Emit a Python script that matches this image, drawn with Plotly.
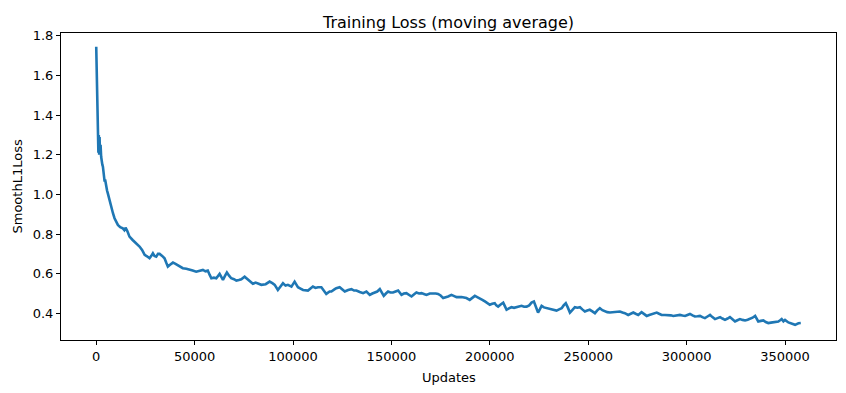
import plotly.graph_objects as go

updates = [0, 200, 400, 700, 900, 1100, 1300, 1500, 1700, 1900, 2200, 2500, 2800, 3100, 3400, 3800, 4200, 4600, 5000, 5500,
           5900, 6700, 7600, 8500, 9300, 10200, 11000, 12200, 13500, 14300, 14900, 15800, 16900, 18500, 20300, 22000, 23300, 24600, 25800, 27100,
           28000, 28800, 29600, 30500, 31400, 32200, 33500, 34700, 35600, 36400, 37500, 39000, 40300, 41500, 42800, 44000, 45800, 47400, 49000, 50800,
           52500, 54200, 55500, 56700, 57600, 58500, 59800, 61000, 62700, 63500, 64400, 65500, 66400, 67500, 68600, 70000, 71200, 72500, 73700, 75400,
           76700, 78000, 79600, 81000, 82200, 83900, 86100, 88100, 89500, 90700, 92300, 93500, 94900, 96200, 97400, 99200, 100800, 101700, 102500, 103800,
           105100, 107600, 110100, 111400, 112700, 114400, 115600, 116900, 118600, 119500, 121200, 122000, 123700, 125000, 126300, 128000, 129700, 131000, 132200, 133900,
           135600, 137300, 139000, 140300, 141500, 142800, 144100, 145100, 146100, 147200, 148300, 149500, 150800, 152100, 153400, 155100, 156300, 157600, 158900, 160200,
           161400, 162700, 164000, 165300, 166500, 167800, 169500, 171200, 172500, 173700, 175000, 176300, 177500, 178800, 180500, 181800, 183100, 185600, 186900, 188100,
           189800, 191000, 192400, 193600, 194900, 196200, 197500, 198800, 200000, 201200, 202500, 203300, 204200, 205500, 206800, 207700, 208500, 209700, 211000, 212300,
           213600, 214800, 216100, 217400, 218700, 220000, 221200, 222400, 223400, 224500, 225400, 226300, 227500, 228800, 230100, 231400, 232600, 233900, 235200, 236500,
           237500, 238600, 239600, 240700, 242000, 243200, 244500, 245800, 247000, 248300, 249500, 250800, 252100, 253400, 254600, 255900, 257200, 258500, 259700, 261000,
           262300, 263600, 264800, 266100, 267400, 268600, 270300, 271600, 272900, 274100, 275400, 277100, 278400, 279700, 281000, 282200, 283500, 284800, 286000, 287300,
           289000, 290700, 292000, 293200, 294900, 296600, 297900, 299200, 300400, 301700, 303000, 304200, 305500, 306800, 308000, 309300, 310600, 311900, 313100, 314400,
           315700, 317000, 318200, 319500, 320800, 322000, 323300, 324600, 325800, 327100, 328400, 329700, 331000, 332200, 333500, 334800, 335600, 336400, 337700, 339000,
           340200, 341500, 342800, 344100, 345300, 346600, 347500, 348300, 349200, 350000, 351700, 353400, 355100, 356800, 358000]

loss = [1.745, 1.62, 1.45, 1.31, 1.29, 1.21, 1.30, 1.20, 1.29, 1.21, 1.25, 1.19, 1.16, 1.15, 1.14, 1.10, 1.07, 1.07, 1.04, 1.02,
        1.005, 0.97, 0.938, 0.905, 0.88, 0.86, 0.846, 0.835, 0.829, 0.82, 0.832, 0.815, 0.787, 0.77, 0.754, 0.737, 0.72, 0.695, 0.688, 0.678,
        0.69, 0.703, 0.69, 0.686, 0.70, 0.70, 0.69, 0.678, 0.655, 0.636, 0.645, 0.656, 0.65, 0.644, 0.635, 0.628, 0.625, 0.622, 0.616, 0.61,
        0.614, 0.619, 0.612, 0.616, 0.595, 0.577, 0.58, 0.577, 0.599, 0.585, 0.569, 0.59, 0.606, 0.59, 0.577, 0.572, 0.565, 0.568, 0.572, 0.585,
        0.575, 0.565, 0.549, 0.555, 0.552, 0.544, 0.547, 0.56, 0.552, 0.544, 0.518, 0.535, 0.552, 0.54, 0.544, 0.535, 0.56, 0.545, 0.532, 0.525,
        0.518, 0.515, 0.535, 0.528, 0.532, 0.532, 0.515, 0.498, 0.51, 0.51, 0.522, 0.527, 0.532, 0.52, 0.51, 0.518, 0.522, 0.515, 0.515, 0.508,
        0.502, 0.51, 0.493, 0.50, 0.505, 0.51, 0.522, 0.505, 0.488, 0.50, 0.51, 0.505, 0.505, 0.51, 0.515, 0.493, 0.50, 0.502, 0.495, 0.485,
        0.495, 0.505, 0.50, 0.502, 0.498, 0.493, 0.50, 0.502, 0.50, 0.498, 0.49, 0.477, 0.48, 0.485, 0.493, 0.488, 0.482, 0.482, 0.48, 0.477,
        0.468, 0.478, 0.488, 0.482, 0.477, 0.468, 0.46, 0.452, 0.443, 0.448, 0.451, 0.44, 0.434, 0.445, 0.454, 0.435, 0.418, 0.425, 0.431, 0.428,
        0.431, 0.434, 0.438, 0.433, 0.434, 0.44, 0.454, 0.46, 0.43, 0.404, 0.42, 0.438, 0.43, 0.426, 0.424, 0.421, 0.418, 0.414, 0.42, 0.426,
        0.44, 0.451, 0.43, 0.404, 0.418, 0.431, 0.428, 0.431, 0.42, 0.409, 0.414, 0.418, 0.41, 0.401, 0.415, 0.426, 0.416, 0.409, 0.406, 0.404,
        0.405, 0.404, 0.407, 0.409, 0.404, 0.401, 0.392, 0.398, 0.404, 0.398, 0.392, 0.406, 0.396, 0.387, 0.392, 0.397, 0.40, 0.404, 0.398, 0.392,
        0.392, 0.392, 0.39, 0.387, 0.39, 0.392, 0.389, 0.387, 0.392, 0.397, 0.39, 0.384, 0.385, 0.387, 0.381, 0.376, 0.384, 0.392, 0.381, 0.371,
        0.376, 0.381, 0.374, 0.367, 0.374, 0.381, 0.37, 0.359, 0.365, 0.371, 0.367, 0.364, 0.368, 0.371, 0.378, 0.387, 0.37, 0.359, 0.362, 0.364,
        0.356, 0.351, 0.353, 0.354, 0.357, 0.359, 0.365, 0.371, 0.36, 0.367, 0.354, 0.348, 0.342, 0.35, 0.351]

x_ticks = [0, 50000, 100000, 150000, 200000, 250000, 300000, 350000]
y_ticks = [0.4, 0.6, 0.8, 1.0, 1.2, 1.4, 1.6, 1.8]

FONT = "DejaVu Sans"

fig = go.Figure()
fig.add_trace(go.Scatter(x=updates, y=loss, mode="lines",
                         line=dict(color="#1f77b4", width=2.6), showlegend=False))

axis_common = dict(showgrid=False, zeroline=False, showline=True, linecolor="black",
                   linewidth=1, mirror=True, ticks="outside", ticklen=4, tickwidth=1,
                   tickcolor="black", tickfont=dict(family=FONT, size=13, color="black"))

# page body has an 8px default margin, so the figure is sized to fit inside it
fig.update_layout(
    width=838, height=385,
    margin=dict(l=53, r=10, t=25, b=53, autoexpand=False),
    paper_bgcolor="white", plot_bgcolor="white",
    font=dict(family=FONT, color="black"),
    title=dict(text="Training Loss (moving average)", x=0.5, xanchor="center",
               xref="paper", yref="paper", y=1, yanchor="bottom",
               pad=dict(b=5), font=dict(family=FONT, size=16, color="black")),
    xaxis=dict(range=[-17900, 375900], tickvals=x_ticks,
               ticktext=[str(v) for v in x_ticks], **axis_common),
    yaxis=dict(range=[0.2655, 1.8145], tickvals=y_ticks,
               ticktext=[f"{v:.1f}" for v in y_ticks], **axis_common),
    annotations=[
        dict(text="Updates", xref="paper", yref="paper", x=0.5, y=0,
             xanchor="center", yanchor="middle", yshift=-37, showarrow=False,
             font=dict(family=FONT, size=13, color="black")),
        dict(text="SmoothL1Loss", xref="paper", yref="paper", x=0, y=0.5,
             xanchor="center", yanchor="middle", xshift=-44, textangle=-90,
             showarrow=False, font=dict(family=FONT, size=13, color="black")),
    ],
)

fig.write_html("out.html")
